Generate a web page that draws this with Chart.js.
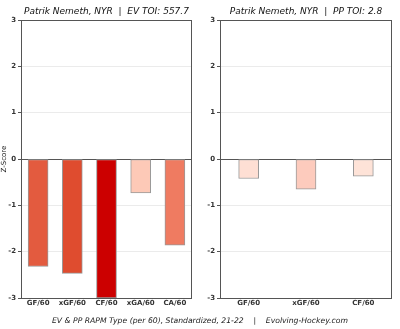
<!DOCTYPE html>
<html lang="en">
<head>
    <meta charset="UTF-8">
    <title>Patrik Nemeth RAPM</title>
    <script src="https://cdn.jsdelivr.net/npm/chart.js@4/dist/chart.umd.min.js"></script>
    <style>
        * {
            margin: 0;
            padding: 0;
            box-sizing: border-box;
        }

        body {
            background: white;
            width: 400px;
            height: 329px;
            position: relative;
            overflow: hidden;
            font-family: "DejaVu Sans", sans-serif;
        }

        .panel {
            position: absolute;
            top: 0;
            width: 200px;
            height: 329px;
        }

        .caption {
            position: absolute;
            left: 0;
            width: 400px;
            top: 316px;
            text-align: center;
            font-size: 7.7px;
            font-style: italic;
            color: #222;
            white-space: pre;
        }
    </style>
</head>
<body>
    <div class="panel" style="left:0"><canvas id="evChart"></canvas></div>
    <div class="panel" style="left:200px"><canvas id="ppChart"></canvas></div>
    <div class="caption">EV &amp; PP RAPM Type (per 60), Standardized, 21-22    |    Evolving-Hockey.com</div>

    <script>
        // even strength
        const evLabels = ['GF/60', 'xGF/60', 'CF/60', 'xGA/60', 'CA/60'];
        const evValues = [-2.32, -2.47, -3.0, -0.73, -1.86];
        const evColors = ['#e35b3f', '#df4c2f', '#cc0000', '#fdc9b7', '#ef7b61'];

        // power play
        const ppLabels = ['GF/60', 'xGF/60', 'CF/60'];
        const ppValues = [-0.42, -0.65, -0.37];
        const ppColors = ['#fedfd4', '#fdcbbd', '#fee3d8'];

        const yTicks = [-3, -2, -1, 0, 1, 2, 3];

        // box around the plot area + title centred above it
        const frame = {
            id: 'frame',
            afterDraw(chart, args, opts) {
                const a = chart.chartArea;
                const c = chart.ctx;
                c.save();
                c.strokeStyle = '#555';
                c.lineWidth = 1;
                c.strokeRect(Math.round(a.left) + 0.5, Math.round(a.top) + 0.5,
                    Math.round(a.right - a.left) - 1, Math.round(a.bottom - a.top));
                c.fillStyle = '#111';
                c.font = 'italic 9px "DejaVu Sans"';
                c.textAlign = 'center';
                c.textBaseline = 'middle';
                c.fillText(opts.text, (a.left + a.right) / 2, 12);
                c.restore();
            }
        };

        function makeChart(id, title, labels, values, colors, axisTitle) {
            return new Chart(document.getElementById(id), {
                type: 'bar',
                data: {
                    labels: labels,
                    datasets: [{
                        data: values,
                        backgroundColor: colors,
                        borderColor: '#999',
                        borderWidth: 1,
                        borderSkipped: false,
                        barThickness: 20
                    }]
                },
                plugins: [frame],
                options: {
                    responsive: true,
                    maintainAspectRatio: false,
                    animation: false,
                    layout: { padding: { left: 0, right: 8, top: 20, bottom: 0 } },
                    plugins: {
                        legend: { display: false },
                        tooltip: { enabled: false },
                        title: { display: false },
                        frame: { text: title }
                    },
                    scales: {
                        x: {
                            grid: { display: false, drawTicks: false },
                            border: { display: false },
                            ticks: {
                                color: '#333',
                                font: { family: 'DejaVu Sans', size: 7, weight: 'bold' },
                                padding: 1,
                                maxRotation: 0
                            },
                            afterFit(scale) { scale.height = 31; }
                        },
                        y: {
                            min: -3,
                            max: 3,
                            afterBuildTicks(scale) {
                                scale.ticks = yTicks.map(v => ({ value: v }));
                            },
                            afterFit(scale) { scale.width = axisTitle ? 21 : 20; },
                            grid: {
                                color: ctx => ctx.tick && ctx.tick.value === 0 ? '#555' : '#ebebeb',
                                tickColor: '#555',
                                tickLength: 3
                            },
                            border: { display: false },
                            ticks: {
                                color: '#333',
                                font: { family: 'DejaVu Sans', size: 7, weight: 'bold' },
                                padding: 2
                            },
                            title: {
                                display: !!axisTitle,
                                text: axisTitle,
                                color: '#222',
                                font: { family: 'DejaVu Sans', size: 7 },
                                padding: 0
                            }
                        }
                    }
                }
            });
        }

        makeChart('evChart', 'Patrik Nemeth, NYR  |  EV TOI: 557.7', evLabels, evValues, evColors, 'Z-Score');
        makeChart('ppChart', 'Patrik Nemeth, NYR  |  PP TOI: 2.8', ppLabels, ppValues, ppColors, '');
    </script>
</body>
</html>
